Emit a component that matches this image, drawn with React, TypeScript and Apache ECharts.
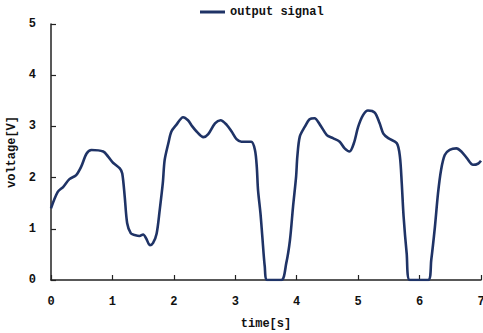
import React, { useEffect, useRef } from "react";
import * as echarts from "echarts";

const timeValues = [0,0.11,0.2,0.3,0.41,0.49,0.58,0.66,0.85,0.93,1.01,1.12,1.16,1.2,1.24,1.3,1.36,1.44,1.5,1.55,1.61,1.66,1.72,1.77,1.82,1.85,1.91,1.96,2.04,2.15,2.23,2.3,2.37,2.48,2.56,2.67,2.76,2.86,2.94,3.02,3.1,3.26,3.32,3.35,3.37,3.41,3.44,3.48,3.52,3.75,3.83,3.89,3.94,3.99,4.01,4.05,4.13,4.21,4.29,4.38,4.49,4.59,4.7,4.78,4.86,4.93,5.0,5.08,5.16,5.27,5.35,5.41,5.49,5.63,5.68,5.71,5.74,5.79,5.84,6.14,6.19,6.25,6.3,6.35,6.41,6.49,6.6,6.68,6.77,6.87,6.95,7.0];
const voltageValues = [1.40,1.72,1.82,1.97,2.05,2.21,2.47,2.54,2.51,2.41,2.29,2.18,2.08,1.63,1.11,0.91,0.88,0.86,0.89,0.81,0.68,0.72,0.91,1.37,1.89,2.34,2.67,2.90,3.03,3.18,3.12,3.0,2.90,2.79,2.85,3.06,3.12,3.03,2.90,2.75,2.70,2.70,2.54,2.21,1.76,1.30,0.85,0.26,0,0,0.33,0.78,1.43,2.02,2.41,2.80,2.99,3.14,3.16,3.03,2.83,2.77,2.70,2.57,2.51,2.67,2.99,3.22,3.31,3.27,3.06,2.86,2.77,2.67,2.41,1.89,1.24,0.52,0,0,0.39,1.04,1.69,2.15,2.44,2.54,2.57,2.51,2.38,2.25,2.27,2.33];
const seriesName = "output signal";
const xName = "time[s]";
const yName = "voltage[V]";

const FONT = "'Liberation Mono', 'DejaVu Sans Mono', monospace";
const LINE_COLOR = "#1f3366";

export default function App() {
  const ref = useRef<HTMLDivElement>(null);
  useEffect(() => {
    document.body.style.margin = "0";
    const chart = echarts.init(ref.current!, null, { renderer: "svg" });
    const data = timeValues.map((t, i) => [t, voltageValues[i]]);
    const axisText = { color: "#111", fontFamily: FONT, fontSize: 12, fontWeight: "bold" as const };
    chart.setOption({
      animation: false,
      backgroundColor: "#fff",
      legend: {
        data: [{ name: seriesName, icon: "rect" }],
        top: 6,
        left: 200,
        padding: 0,
        itemWidth: 25,
        itemHeight: 3,
        itemGap: 5,
        textStyle: { ...axisText },
      },
      grid: { left: 51, right: 2, top: 24, bottom: 53, containLabel: false, outerBoundsMode: "none" },
      xAxis: {
        type: "value",
        min: 0,
        max: 7,
        interval: 1,
        name: xName,
        nameLocation: "middle",
        nameGap: 38,
        nameTextStyle: axisText,
        axisLine: { show: true, onZero: false, lineStyle: { color: "#222", width: 1.5 } },
        axisTick: { show: true, inside: true, length: 5, lineStyle: { color: "#222", width: 1.2 } },
        axisLabel: { ...axisText, margin: 16 },
        splitLine: { show: false },
      },
      yAxis: {
        type: "value",
        min: 0,
        max: 5,
        interval: 1,
        name: yName,
        nameLocation: "middle",
        nameGap: 28,
        nameTextStyle: axisText,
        axisLine: { show: true, lineStyle: { color: "#222", width: 1.5 } },
        axisTick: { show: true, inside: true, length: 5, lineStyle: { color: "#222", width: 1.2 } },
        axisLabel: { ...axisText, margin: 15 },
        splitLine: { show: false },
      },
      series: [
        {
          name: seriesName,
          type: "line",
          data,
          showSymbol: false,
          symbol: "none",
          smooth: 0.3,
          lineStyle: { color: LINE_COLOR, width: 2.6 },
          itemStyle: { color: LINE_COLOR },
        },
      ],
    });
    return () => chart.dispose();
  }, []);
  return <div ref={ref} style={{ width: 483, height: 333 }} />;
}
